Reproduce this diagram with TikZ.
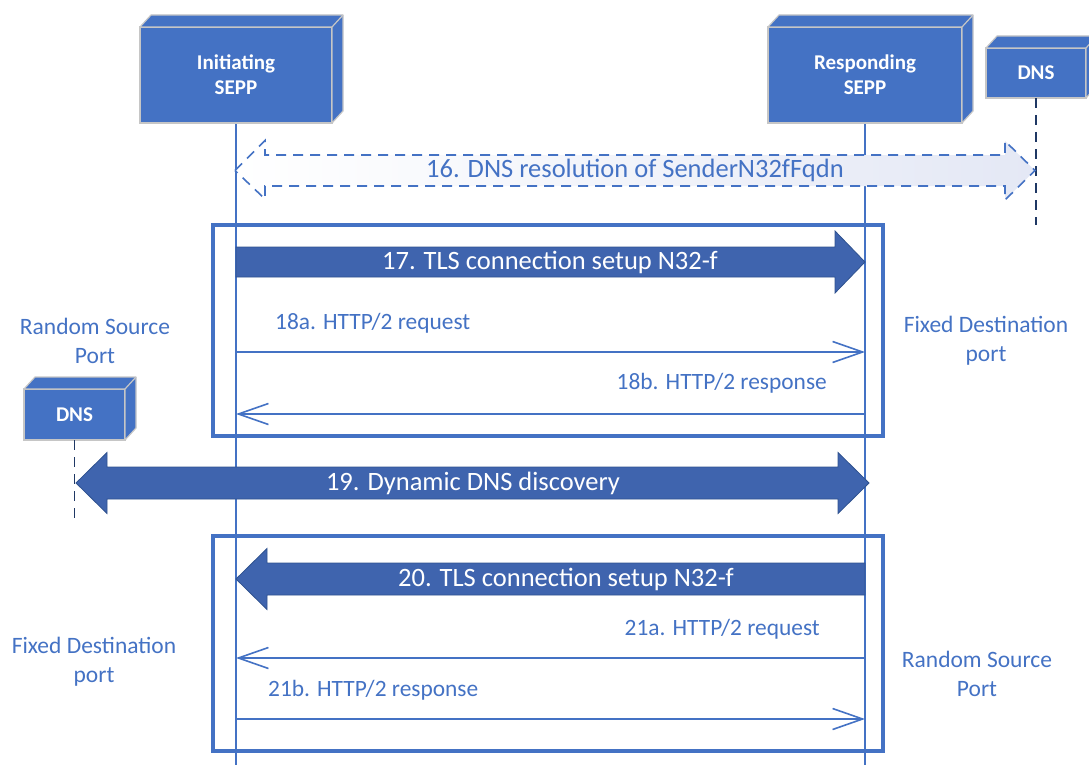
\documentclass[tikz,border=0pt]{standalone}
\usepackage{fontspec}
\setmainfont{Carlito}
\usetikzlibrary{arrows.meta,calc}
\definecolor{oblue}{RGB}{68,114,196}
\definecolor{afill}{RGB}{63,100,174}
\definecolor{aline}{RGB}{47,82,143}
\definecolor{navy}{RGB}{31,56,100}
\definecolor{pale}{RGB}{228,232,245}
\tikzset{
  cubebox/.style={fill=oblue,draw=gray!45,line width=1.2pt,inner sep=0pt,outer sep=0pt,
    text=white,font=\fontsize{21}{25}\selectfont\bfseries,align=center},
  cubeface/.style={fill=oblue,draw=gray!45,line width=1.2pt,line join=round},
  sepplife/.style={draw=oblue,line width=1.8pt},
  dnslife/.style={draw=navy,line width=1.8pt,dash pattern=on 10pt off 7pt},
  frame/.style={draw=oblue,line width=4pt},
  bigarrow/.style={fill=afill,draw=aline,line width=0.8pt,line join=miter},
  bigtext/.style={text=white,font=\fontsize{26.5}{30}\selectfont,inner sep=0pt},
  msg/.style={draw=oblue,line width=1.6pt,-{Straight Barb[length=30pt,width=21pt,line width=1.6pt]}},
  msgtext/.style={text=oblue,font=\fontsize{23.4}{27}\selectfont,inner sep=0pt},
  sidetext/.style={text=oblue,font=\fontsize{23.5}{29}\selectfont,align=center,inner sep=0pt},
}
\newcommand{\mycube}[1]{%
  \filldraw[cubeface] (#1.north west) -- ++(11,-12) -- ($(#1.north east)+(11,-12)$)
     -- ($(#1.south east)+(11,-12)$) -- (#1.south east) -- (#1.north east) -- cycle;
  \draw[cubeface,fill=none] (#1.north east) -- ++(11,-12);
}
\begin{document}
\begin{tikzpicture}[x=1pt,y=-1pt]
\useasboundingbox (0,0) rectangle (1089,765);
% lifelines
\coordinate (itop) at (236,123);
\coordinate (ibot) at (236,765);
\coordinate (rtop) at (865,123);
\coordinate (rbot) at (865,765);
\draw[sepplife] (itop) -- (ibot);
\draw[sepplife] (rtop) -- (rbot);
% participants
\node[cubebox,minimum width=192pt,minimum height=96pt] (isepp) at (236,75) {Initiating\\SEPP};
\mycube{isepp}
\node[cubebox,minimum width=194pt,minimum height=96pt] (rsepp) at (865,75) {Responding\\SEPP};
\mycube{rsepp}
\node[cubebox,minimum width=100pt,minimum height=50pt] (dnsr) at (1036,73) {DNS};
\mycube{dnsr}
\node[cubebox,minimum width=101pt,minimum height=51pt] (dnsl) at (74.5,414.5) {DNS};
\mycube{dnsl}
\coordinate (dnsrend) at (1036,225);
\coordinate (dnslend) at (74.5,525);
\draw[dnslife] (dnsr.south) -- (dnsrend);
\draw[dnslife] (dnsl.south) -- (dnslend);
% 16 dashed double arrow
\coordinate (a16l) at (235,170.5);
\coordinate (a16r) at (1035,170.5);
\shade[left color=white,right color=pale]
  (a16l) -- ($(a16l)+(30,-30)$) -- ($(a16l)+(30,-15.5)$) -- ($(a16r)+(-30,-15.5)$)
  -- ($(a16r)+(-30,-29.5)$) -- (a16r) -- ($(a16r)+(-30,29.5)$) -- ($(a16r)+(-30,15.5)$)
  -- ($(a16l)+(30,15.5)$) -- ($(a16l)+(30,28.5)$) -- cycle;
\draw[oblue,line width=1.6pt,dash pattern=on 10pt off 7pt]
  (a16l) -- ($(a16l)+(30,-30)$) -- ($(a16l)+(30,-15.5)$) -- ($(a16r)+(-30,-15.5)$)
  -- ($(a16r)+(-30,-29.5)$) -- (a16r) -- ($(a16r)+(-30,29.5)$) -- ($(a16r)+(-30,15.5)$)
  -- ($(a16l)+(30,15.5)$) -- ($(a16l)+(30,28.5)$) -- cycle;
\node[text=oblue,font=\fontsize{26.5}{30}\selectfont,inner sep=0pt] (t16) at (635,170.5) {16. DNS resolution of SenderN32fFqdn};
% frame 1
\draw[frame] (213,225) rectangle (883,436);
% 17
\coordinate (a17l) at (236,262);
\coordinate (a17r) at (865,262);
\filldraw[bigarrow] ($(a17l)+(0,-15)$) -- ($(a17r)+(-30,-15)$) -- ($(a17r)+(-30,-31)$) -- (a17r)
  -- ($(a17r)+(-30,31)$) -- ($(a17r)+(-30,15)$) -- ($(a17l)+(0,15)$) -- cycle;
\node[bigtext] (t17) at (550,262) {17. TLS connection setup N32-f};
% 18a / 18b
\coordinate (m18al) at (236,352);
\coordinate (m18ar) at (865,352);
\draw[msg] (m18al) -- (m18ar);
\node[msgtext,anchor=west] (t18a) at (275,323) {18a. HTTP/2 request};
\coordinate (m18bl) at (236,414);
\coordinate (m18br) at (865,414);
\draw[msg] (m18br) -- (m18bl);
\node[msgtext,anchor=east] (t18b) at (827,383) {18b. HTTP/2 response};
% side labels top
\node[sidetext] (rs1) at (95,341) {Random Source\\Port};
\node[sidetext] (fd1) at (986,341) {Fixed Destination\\port};
% 19
\coordinate (a19l) at (76,483);
\coordinate (a19r) at (869,483);
\filldraw[bigarrow] (a19l) -- ($(a19l)+(31,-30.5)$) -- ($(a19l)+(31,-16)$) -- ($(a19r)+(-31,-16)$)
  -- ($(a19r)+(-31,-30.5)$) -- (a19r) -- ($(a19r)+(-31,30.5)$) -- ($(a19r)+(-31,16)$)
  -- ($(a19l)+(31,16)$) -- ($(a19l)+(31,30.5)$) -- cycle;
\node[bigtext] (t19) at (473,483) {19. Dynamic DNS discovery};
% frame 2
\draw[frame] (213,536) rectangle (883,751);
% 20
\coordinate (a20l) at (236,579);
\coordinate (a20r) at (865,579);
\filldraw[bigarrow] (a20l) -- ($(a20l)+(31,-30.5)$) -- ($(a20l)+(31,-16)$) -- ($(a20r)+(0,-16)$)
  -- ($(a20r)+(0,16)$) -- ($(a20l)+(31,16)$) -- ($(a20l)+(31,30.5)$) -- cycle;
\node[bigtext] (t20) at (566,579) {20. TLS connection setup N32-f};
% 21a / 21b
\coordinate (m21al) at (236,658);
\coordinate (m21ar) at (865,658);
\draw[msg] (m21ar) -- (m21al);
\node[msgtext,anchor=east] (t21a) at (820,629) {21a. HTTP/2 request};
\coordinate (m21bl) at (236,719);
\coordinate (m21br) at (865,719);
\draw[msg] (m21bl) -- (m21br);
\node[msgtext,anchor=west] (t21b) at (268,690) {21b. HTTP/2 response};
% side labels bottom
\node[sidetext] (fd2) at (94,662) {Fixed Destination\\port};
\node[sidetext] (rs2) at (977,674) {Random Source\\Port};
\end{tikzpicture}
\end{document}
